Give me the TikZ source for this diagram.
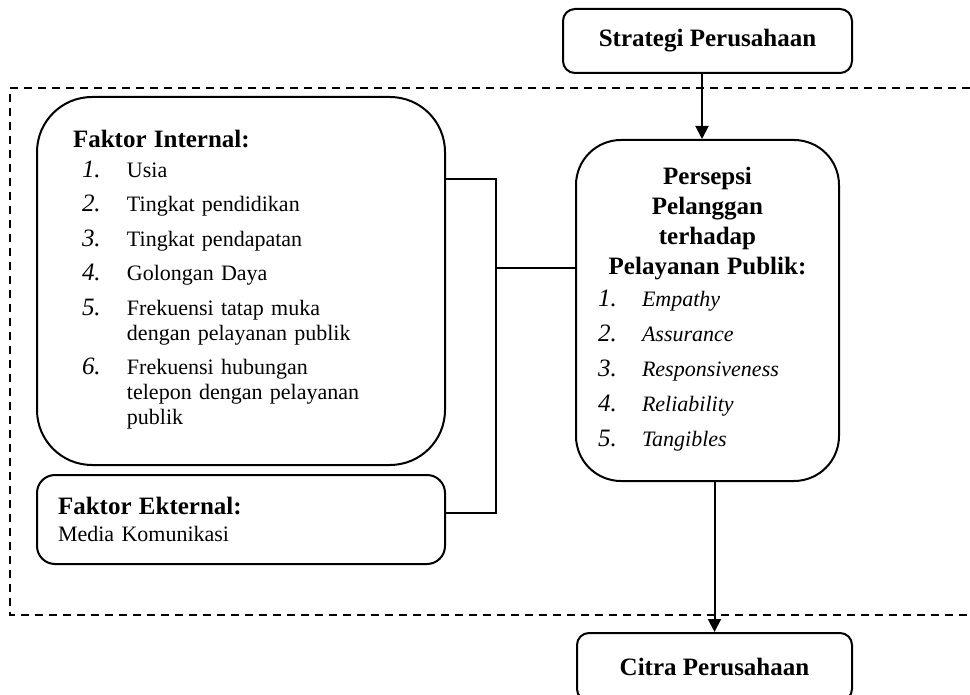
\documentclass[tikz,border=0pt]{standalone}
\usepackage{fontspec}
\setmainfont{Liberation Serif}
\usepackage{array}
\usetikzlibrary{arrows.meta}

\newcommand{\headfont}{\fontsize{12.5}{15}\selectfont\bfseries}
\newcommand{\itemno}[1]{{\fontsize{12.5}{12.5}\selectfont\itshape #1.}}

\begin{document}
\begin{tikzpicture}[x=0.5pt, y=-0.5pt, line width=1pt, >={Triangle[length=6.5pt,width=6.5pt]},
    box/.style={draw, rounded corners=6pt, inner sep=0pt, font=\fontsize{11}{12.5}\selectfont},
    frame/.style={dash pattern=on 4pt off 3pt, line width=0.75pt}]
    \useasboundingbox (0,0) rectangle (970,695);

    % Dashed frame
    \draw[frame] (970,88) -- (10,88) -- (10,615) -- (970,615);

    % Top and bottom boxes
    \node[box, minimum width=144.5pt, minimum height=32pt, font=\headfont] (strat) at (707.5,41) {Strategi Perusahaan};
    \node[box, minimum width=137.5pt, minimum height=34pt, font=\headfont] (citra) at (714.5,667) {Citra Perusahaan};

    % Internal factors
    \node[box, rounded corners=27.5pt, minimum height=184pt, text width=168pt, inner xsep=18pt] (internal) at (241,281) {%
      \begin{tabular}{@{\hspace{4.5pt}}p{22.5pt}@{}p{140pt}@{}}
        \multicolumn{2}{@{}l@{}}{\headfont Faktor Internal:}\\[2.5pt]
        \itemno{1} & Usia\\[4.75pt]
        \itemno{2} & Tingkat pendidikan\\[4.75pt]
        \itemno{3} & Tingkat pendapatan\\[4.75pt]
        \itemno{4} & Golongan Daya\\[4.75pt]
        \itemno{5} & Frekuensi tatap muka\\
                   & dengan pelayanan publik\\[4.75pt]
        \itemno{6} & Frekuensi hubungan\\
                   & telepon dengan pelayanan\\
                   & publik
      \end{tabular}};

    % External factors
    \node[box, rounded corners=9pt, minimum height=44.5pt, text width=183pt, inner xsep=10.5pt] (external) at (241,519.5) {%
      {\headfont Faktor Ekternal:}\\[1pt]
      Media Komunikasi};

    % Customer perception
    \node[box, rounded corners=22.5pt, minimum height=170.5pt, text width=109.5pt, inner xsep=11pt] (persepsi) at (707.5,310.5) {%
      \begin{tabular}{@{}p{22pt}@{}p{87.5pt}@{}}
        \multicolumn{2}{@{}c@{}}{\headfont Persepsi}\\[2.5pt]
        \multicolumn{2}{@{}c@{}}{\headfont Pelanggan}\\[2.5pt]
        \multicolumn{2}{@{}c@{}}{\headfont terhadap}\\[2.5pt]
        \multicolumn{2}{@{}c@{}}{\headfont Pelayanan Publik:}\\[3.5pt]
        \itemno{1} & \textit{Empathy}\\[5pt]
        \itemno{2} & \textit{Assurance}\\[5pt]
        \itemno{3} & \textit{Responsiveness}\\[5pt]
        \itemno{4} & \textit{Reliability}\\[5pt]
        \itemno{5} & \textit{Tangibles}
      \end{tabular}};

    % Bracket joining both factors
    \coordinate (jtop) at (496,179);
    \coordinate (jmid) at (496,268);
    \coordinate (jbot) at (496,513);
    \draw (jtop -| internal.east) -- (jtop) -- (jbot) -- (jbot -| external.east);
    \draw (jmid) -- (jmid -| persepsi.west);

    % Arrows
    \draw[->] ([xshift=-2.75pt]strat.south) -- ([xshift=-2.75pt]strat.south |- persepsi.north);
    \draw[->] (persepsi.south -| citra.north) -- (citra.north);
\end{tikzpicture}
\end{document}
